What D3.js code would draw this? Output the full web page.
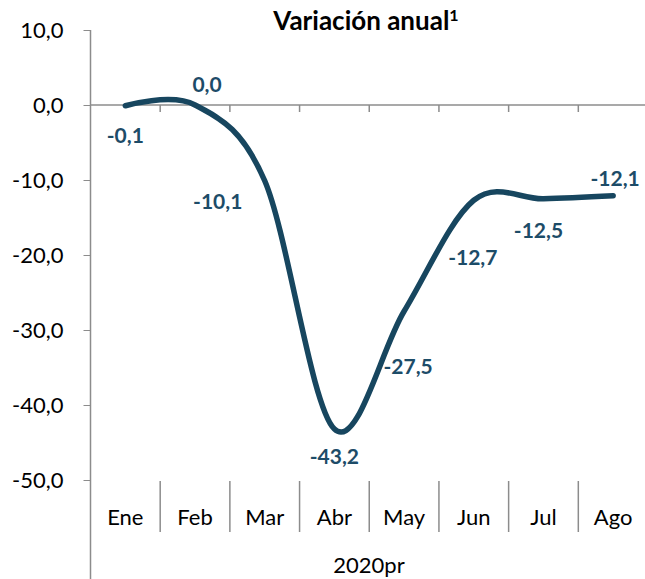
<!DOCTYPE html>
<html>
<head>
<meta charset="utf-8">
<script src="https://cdn.jsdelivr.net/npm/d3@7"></script>
<style>
  body { margin: 0; background: #fff; }
  svg { display: block; font-family: Lato, "Open Sans", sans-serif; }
</style>
</head>
<body>
<div id="chart"></div>
<script>
// ------------------------------------------------------------
// Data
// ------------------------------------------------------------
const months = ["Ene", "Feb", "Mar", "Abr", "May", "Jun", "Jul", "Ago"];
const values = [-0.1, 0.0, -10.1, -43.2, -27.5, -12.7, -12.5, -12.1];
const yTicks = [10, 0, -10, -20, -30, -40, -50];
const yearLabel = "2020pr";

// label offsets from each point (dx, dy), as placed in the original
const labelOffsets = [[0, 30], [12, -20], [-47, 21], [0, 28], [4, 55], [-1, 57], [-5, 32], [2, -17]];

const width = 645, height = 579;
const lineColor = "#17465f";
const axisColor = "#8c8c8c";
const fmt = v => d3.format(".1f")(v).replace(".", ",").replace("−", "-");

const svg = d3.select("#chart")
    .append("svg")
    .attr("width", width)
    .attr("height", height);

// Scales
const x = d3.scaleBand()
    .domain(months)
    .range([90.5, 648])
    .padding(0);

const y = d3.scaleLinear()
    .domain([10, -50])
    .range([30, 480]);

// Title
const title = svg.append("text")
    .attr("x", 366)
    .attr("y", 30)
    .attr("text-anchor", "middle")
    .attr("font-size", "26px")
    .attr("font-weight", "bold")
    .attr("fill", "#000");
title.append("tspan").text("Variación anual");
title.append("tspan").text("1").attr("font-size", "16px").attr("dy", "-9");

// Y axis
const yAxis = svg.append("g")
    .attr("transform", "translate(90.5,0)")
    .call(d3.axisLeft(y).tickValues(yTicks).tickFormat(fmt).tickSize(7).tickSizeOuter(0).tickPadding(20));
yAxis.select(".domain").remove();
yAxis.selectAll(".tick line").attr("stroke", axisColor);
yAxis.selectAll(".tick text")
    .attr("font-size", "22px")
    .attr("font-family", "Lato, sans-serif")
    .attr("fill", "#000");

// vertical axis line down to the bottom
svg.append("line")
    .attr("x1", 90.5).attr("x2", 90.5)
    .attr("y1", y(10)).attr("y2", height)
    .attr("stroke", axisColor)
    .attr("stroke-width", 1.5);

// horizontal category axis at zero
svg.append("line")
    .attr("x1", 90.5).attr("x2", width)
    .attr("y1", y(0)).attr("y2", y(0))
    .attr("stroke", axisColor)
    .attr("stroke-width", 1.5);

const bounds = months.map(m => x(m)).slice(1);
svg.selectAll(".zero-tick")
    .data(bounds)
    .enter()
    .append("line")
    .attr("x1", d => d).attr("x2", d => d)
    .attr("y1", y(0)).attr("y2", y(0) + 7)
    .attr("stroke", axisColor)
    .attr("stroke-width", 1.5);

// separators between category labels
svg.selectAll(".sep")
    .data(bounds)
    .enter()
    .append("line")
    .attr("x1", d => d).attr("x2", d => d)
    .attr("y1", 481).attr("y2", 532)
    .attr("stroke", axisColor)
    .attr("stroke-width", 1.5);

// category labels
svg.selectAll(".cat")
    .data(months)
    .enter()
    .append("text")
    .attr("x", d => x(d) + x.bandwidth() / 2)
    .attr("y", 525)
    .attr("text-anchor", "middle")
    .attr("font-size", "22px")
    .attr("fill", "#000")
    .text(d => d);

svg.append("text")
    .attr("x", 369)
    .attr("y", 573)
    .attr("text-anchor", "middle")
    .attr("font-size", "22px")
    .attr("fill", "#000")
    .text(yearLabel);

// Line
const line = d3.line()
    .x((d, i) => x(months[i]) + x.bandwidth() / 2)
    .y(d => y(d))
    .curve(d3.curveCardinal.tension(0));

svg.append("path")
    .datum(values)
    .attr("d", line)
    .attr("fill", "none")
    .attr("stroke", lineColor)
    .attr("stroke-width", 5.5)
    .attr("stroke-linecap", "round")
    .attr("stroke-linejoin", "round");

// Data labels
svg.selectAll(".val")
    .data(values)
    .enter()
    .append("text")
    .attr("x", (d, i) => x(months[i]) + x.bandwidth() / 2 + labelOffsets[i][0])
    .attr("y", (d, i) => y(d) + labelOffsets[i][1])
    .attr("dy", "0.35em")
    .attr("text-anchor", "middle")
    .attr("font-size", "21px")
    .attr("font-weight", "bold")
    .attr("fill", "#1d4c68")
    .text(d => fmt(d));
</script>
</body>
</html>
